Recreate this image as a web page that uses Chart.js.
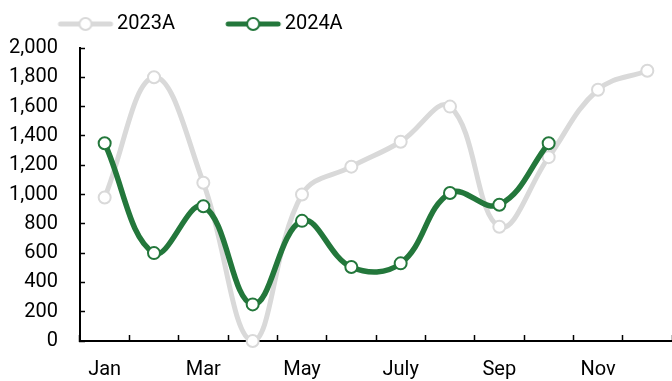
<!DOCTYPE html>
<html>
<head>
<meta charset="utf-8">
<script src="https://cdn.jsdelivr.net/npm/chart.js@4/dist/chart.umd.min.js"></script>
<style>
  html, body { margin: 0; padding: 0; background: #fff; }
  #wrap { width: 672px; height: 381px; position: relative; }
</style>
</head>
<body>
<div id="wrap"><canvas id="c" width="672" height="381"></canvas></div>
<script>
const categories = ['Jan','Feb','Mar','Apr','May','Jun','July','Aug','Sep','Oct','Nov','Dec'];
const series2023Label = '2023A';
const series2024Label = '2024A';
const values2023 = [980, 1800, 1080, 0, 1000, 1190, 1360, 1600, 780, 1255, 1715, 1845];
const values2024 = [1350, 600, 920, 250, 820, 505, 530, 1010, 930, 1350, null, null];
const yTickMin = 0, yTickMax = 2000, yTickStep = 200;

const GRAY = '#d9d9d9';
const GREEN = '#23773b';
const FONT = 'Roboto';

function legendIcon(color) {
  const c = document.createElement('canvas');
  c.width = 58; c.height = 16;
  const g = c.getContext('2d');
  g.strokeStyle = color; g.lineWidth = 5; g.lineCap = 'round';
  g.beginPath(); g.moveTo(4, 8); g.lineTo(54, 8); g.stroke();
  g.beginPath(); g.arc(29, 8, 6, 0, Math.PI * 2);
  g.fillStyle = '#fff'; g.fill();
  g.lineWidth = 2; g.stroke();
  return c;
}
const icons = [legendIcon(GRAY), legendIcon(GREEN)];

const layoutTweaks = {
  id: 'layoutTweaks',
  beforeLayout(chart) {
    const lg = chart.legend;
    if (lg && !lg._patched) {
      const orig = lg.fit;
      lg.fit = function () { orig.call(this); this.height += 4; };
      lg._patched = true;
    }
  },
  beforeDraw(chart) {
    if (chart.legend) chart.legend.left = 52;
  }
};

new Chart(document.getElementById('c'), {
  type: 'line',
  data: {
    labels: categories,
    datasets: [
      {
        label: series2023Label, data: values2023, order: 1,
        borderColor: GRAY, borderWidth: 5, tension: 0.4,
        pointRadius: 6, pointBorderWidth: 2, pointBackgroundColor: '#fff', pointBorderColor: GRAY,
        fill: false, clip: false
      },
      {
        label: series2024Label, data: values2024, order: 0,
        borderColor: GREEN, borderWidth: 5.5, tension: 0.4,
        pointRadius: 6, pointBorderWidth: 2, pointBackgroundColor: '#fff', pointBorderColor: GREEN,
        fill: false, clip: false
      }
    ]
  },
  options: {
    responsive: false,
    animation: false,
    devicePixelRatio: 1,
    layout: { autoPadding: false, padding: { left: 0, right: 0, top: 2, bottom: 0 } },
    plugins: {
      tooltip: { enabled: false },
      legend: {
        display: true, position: 'top', align: 'start',
        labels: {
          font: { family: FONT, size: 20 }, color: '#000',
          usePointStyle: true, pointStyleWidth: 43, boxHeight: 16, padding: 12,
          generateLabels(chart) {
            return chart.data.datasets.map((ds, i) => ({
              text: i === 0 ? ds.label + '\u00A0\u00A0\u00A0\u00A0\u00A0\u00A0\u00A0\u00A0\u00A0' : ds.label,
              pointStyle: icons[i], fillStyle: '#fff', strokeStyle: ds.borderColor,
              lineWidth: 0, hidden: false, datasetIndex: i, fontColor: '#000'
            }));
          }
        }
      }
    },
    scales: {
      x: {
        type: 'category', offset: true,
        afterFit(s) { s.height = 40; },
        border: { display: true, color: '#000', width: 2 },
        grid: { display: true, offset: true, drawOnChartArea: false, drawTicks: true, tickLength: -6, tickColor: '#000', tickWidth: 1.5 },
        ticks: {
          autoSkip: false, maxRotation: 0, padding: 23, color: '#000',
          font: { family: FONT, size: 20 },
          callback(v, i) { return i % 2 === 0 ? categories[i] : ''; }
        }
      },
      y: {
        min: yTickMin, max: yTickMax,
        afterFit(s) { s.width = 80; },
        border: { display: true, color: '#000', width: 2 },
        grid: { display: true, drawOnChartArea: false, drawTicks: true, tickLength: -5, tickColor: '#000', tickWidth: 1.5 },
        ticks: {
          stepSize: yTickStep, padding: 27, color: '#000',
          font: { family: FONT, size: 20 }
        }
      }
    }
  },
  plugins: [layoutTweaks]
});
</script>
</body>
</html>
